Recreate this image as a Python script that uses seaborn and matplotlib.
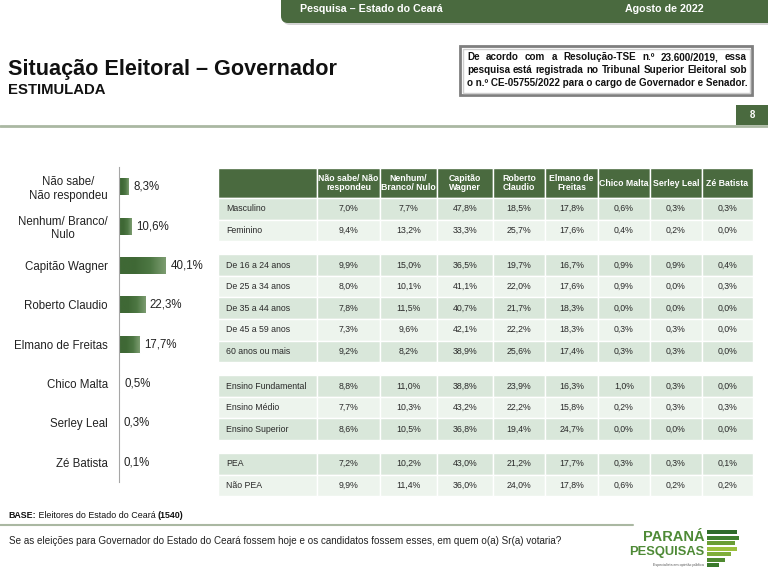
import numpy as np
import pandas as pd
import matplotlib.pyplot as plt
import seaborn as sns
from matplotlib.patches import Rectangle, FancyBboxPatch
from matplotlib.colors import LinearSegmentedColormap

# --- Total (estimulada) ---
candidatos = ["Não sabe/\nNão respondeu", "Nenhum/ Branco/\nNulo", "Capitão Wagner",
              "Roberto Claudio", "Elmano de Freitas", "Chico Malta", "Serley Leal", "Zé Batista"]
totais = [8.3, 10.6, 40.1, 22.3, 17.7, 0.5, 0.3, 0.1]

# --- Table by segment ---
colunas = ["Não sabe/ Não\nrespondeu", "Nenhum/\nBranco/ Nulo", "Capitão\nWagner", "Roberto\nClaudio",
           "Elmano de\nFreitas", "Chico Malta", "Serley Leal", "Zé Batista"]
segmentos = ["Masculino", "Feminino", "De 16 a 24 anos", "De 25 a 34 anos", "De 35 a 44 anos",
             "De 45 a 59 anos", "60 anos ou mais", "Ensino Fundamental", "Ensino Médio",
             "Ensino Superior", "PEA", "Não PEA"]
grupo = [0, 0, 1, 1, 1, 1, 1, 2, 2, 2, 3, 3]
nao_sabe = [7.0, 9.4, 9.9, 8.0, 7.8, 7.3, 9.2, 8.8, 7.7, 8.6, 7.2, 9.9]
nenhum = [7.7, 13.2, 15.0, 10.1, 11.5, 9.6, 8.2, 11.0, 10.3, 10.5, 10.2, 11.4]
capitao = [47.8, 33.3, 36.5, 41.1, 40.7, 42.1, 38.9, 38.8, 43.2, 36.8, 43.0, 36.0]
roberto = [18.5, 25.7, 19.7, 22.0, 21.7, 22.2, 25.6, 23.9, 22.2, 19.4, 21.2, 24.0]
elmano = [17.8, 17.6, 16.7, 17.6, 18.3, 18.3, 17.4, 16.3, 15.8, 24.7, 17.7, 17.8]
chico = [0.6, 0.4, 0.9, 0.9, 0.0, 0.3, 0.3, 1.0, 0.2, 0.0, 0.3, 0.6]
serley = [0.3, 0.2, 0.9, 0.0, 0.0, 0.3, 0.3, 0.3, 0.3, 0.0, 0.3, 0.2]
ze = [0.3, 0.0, 0.4, 0.3, 0.0, 0.0, 0.0, 0.0, 0.3, 0.0, 0.1, 0.2]

df_total = pd.DataFrame({"candidato": candidatos, "pct": totais})
tabela = pd.DataFrame(dict(zip(colunas, [nao_sabe, nenhum, capitao, roberto, elmano, chico, serley, ze])),
                      index=segmentos)


def pct(v):
    return f"{v:.1f}%".replace(".", ",")


sns.set_style("white")
plt.rcParams['font.family'] = ['Liberation Sans', 'DejaVu Sans']

W, H = 768, 574
verde = '#4a6a3f'
fig = plt.figure(figsize=(W / 100, H / 100), dpi=100)
bg = fig.add_axes([0, 0, 1, 1])
bg.set_xlim(0, W)
bg.set_ylim(H, 0)
bg.axis('off')
renderer = fig.canvas.get_renderer()


def largura(t):
    return t.get_window_extent(renderer).width


def ajustado(x0, x1, y, s, **kw):
    t = bg.text(x0, y, s, fontsize=10, va='center', **kw)
    t.set_fontsize(10 * (x1 - x0) / largura(t))
    return t


def justificado(x0, x1, y, s, fs, **kw):
    ts = [bg.text(0, y, w, fontsize=fs, va='center', **kw) for w in s.split()]
    ws = [largura(t) for t in ts]
    g = (x1 - x0 - sum(ws)) / (len(ws) - 1)
    x = x0
    for t, w in zip(ts, ws):
        t.set_x(x)
        x += w + g


# header band
bg.add_patch(FancyBboxPatch((283, -30), 520, 55, boxstyle="round,pad=0,rounding_size=7",
                            fc='#d4d4d4', ec='none'))
bg.add_patch(FancyBboxPatch((281, -30), 520, 53, boxstyle="round,pad=0,rounding_size=7",
                            fc=verde, ec='none'))
ajustado(300, 443, 9.5, "Pesquisa – Estado do Ceará", color='white', fontweight='bold')
ajustado(625, 703, 9.5, "Agosto de 2022", color='white', fontweight='bold')

# title
ajustado(8, 336, 70, "Situação Eleitoral – Governador", fontweight='bold', color='#111')
ajustado(8, 105, 90, "ESTIMULADA", fontweight='bold', color='#111')

# TSE box
bg.add_patch(Rectangle((460, 46), 292, 49, fc='white', ec='#7f7f7f', lw=2))
bg.add_patch(Rectangle((462.5, 48.5), 287, 44, fc='none', ec='#cfcfcf', lw=1))
l3 = ajustado(467, 747, 83, "o n.º CE-05755/2022 para o cargo de Governador e Senador.",
              fontweight='bold', color='#111')
fs_box = l3.get_fontsize()
justificado(467, 747, 57, "De acordo com a Resolução-TSE n.º 23.600/2019, essa", fs_box,
            fontweight='bold', color='#111')
justificado(467, 747, 70, "pesquisa está registrada no Tribunal Superior Eleitoral sob", fs_box,
            fontweight='bold', color='#111')

# page number + rule
bg.add_patch(Rectangle((736, 105), 32, 20, fc=verde, ec='none'))
bg.text(752, 115.5, "8", color='white', fontsize=7, fontweight='bold', ha='center', va='center')
bg.plot([0, W], [126, 126], color='#aab8a2', lw=2)

# --- bar chart (seaborn) ---
ax = fig.add_axes([119 / W, 1 - 482 / H, 110 / W, 315 / H])
sns.barplot(data=df_total, x="pct", y="candidato", orient="h", color='#456d3b',
            saturation=1, width=0.43, ax=ax)
ax.patch.set_alpha(0)
ax.set_xlim(0, 110 / 1.17)
ax.set_ylim(7.5, -0.5)

# soft sheen toward the bar tips
brilho = LinearSegmentedColormap.from_list("brilho", ['#3f6835', '#3f6835', '#4d7743', '#7c9c70'])
for p in ax.patches:
    x0, y0, w, h = p.get_x(), p.get_y(), p.get_width(), p.get_height()
    if w <= 0:
        continue
    p.set_facecolor('#8a9c84' if w < 1 else '#3f6835')
    if w >= 1:
        im = ax.imshow(np.linspace(0, 1, 64)[None, :], cmap=brilho, aspect='auto',
                       extent=[x0, x0 + w, y0 + h, y0], zorder=p.get_zorder() + 0.1,
                       interpolation='bilinear')
        im.set_clip_path(p)
ax.set_xlim(0, 110 / 1.17)
ax.set_ylim(7.5, -0.5)

ax.set_xlabel("")
ax.set_ylabel("")
ax.set_xticks([])
sns.despine(ax=ax, top=True, right=True, bottom=True)
ax.spines['left'].set_color('#a6a6a6')
ax.tick_params(axis='y', which='major', length=0, pad=8, labelsize=8.3, labelcolor='#222')
ax.set_yticks(np.arange(-0.5, 7, 1), minor=True)
ax.tick_params(axis='y', which='minor', length=4, color='#a6a6a6', width=1)
for t in ax.get_yticklabels():
    t.set_multialignment('center')
for i, v in enumerate(totais):
    ax.text(v + 3.8, i, pct(v), va='center', ha='left', fontsize=8.3, color='#222')

# --- table ---
cols_x = [218, 317, 380, 437, 493, 545, 598, 650, 702, 753]
head_top, head_bot = 168, 198
pitch, gap = 21.6, 13
for j in range(9):
    bg.add_patch(Rectangle((cols_x[j], head_top), cols_x[j + 1] - cols_x[j], head_bot - head_top,
                           fc=verde, ec='white', lw=1))
    if j > 0:
        bg.text((cols_x[j] + cols_x[j + 1]) / 2, (head_top + head_bot) / 2, colunas[j - 1],
                color='white', fontsize=6.3, fontweight='bold', ha='center', va='center',
                linespacing=1.1)

for i, seg in enumerate(segmentos):
    top = head_bot + i * pitch + grupo[i] * gap
    primeiro = grupo.index(grupo[i])
    cor = '#d9e7da' if (i - primeiro) % 2 == 0 else '#edf4ed'
    for j in range(9):
        bg.add_patch(Rectangle((cols_x[j], top), cols_x[j + 1] - cols_x[j], pitch,
                               fc=cor, ec='white', lw=1))
    yc = top + pitch / 2
    bg.text(cols_x[0] + 8, yc, seg, fontsize=6.3, va='center', ha='left', color='#2a2a2a')
    for j, col in enumerate(colunas):
        bg.text((cols_x[j + 1] + cols_x[j + 2]) / 2, yc, pct(tabela.loc[seg, col]),
                fontsize=6.3, va='center', ha='center', color='#2a2a2a')

# --- footer ---
x = 8
for parte, peso in [("BASE:", 'bold'), (" Eleitores do Estado do Ceará ", 'normal'), ("(1540)", 'bold')]:
    t = bg.text(x, 516, parte, fontsize=6.4, fontweight=peso, va='center', color='#111')
    x += largura(t)
bg.plot([0, 633], [525, 525], color='#aab8a2', lw=1.5)
ajustado(9, 566, 541, "Se as eleições para Governador do Estado do Ceará fossem hoje e os candidatos "
                      "fossem esses, em quem o(a) Sr(a) votaria?", color='#222')

# logo
verde_logo = '#4e8a36'
ajustado(643, 704, 537, "PARANÁ", fontweight='bold', color=verde_logo)
ajustado(629, 704, 552, "PESQUISAS", fontweight='bold', color=verde_logo)
bg.text(704, 565, "Especialista em opinião pública", ha='right', va='center', fontsize=2.6,
        color='#555')
faixas = [(530, 30, '#2f6b2a'), (535.5, 32, '#3f7f2e'), (541, 28, '#6a9d35'), (546.5, 30, '#9cc03e'),
          (552, 24, '#7fae3a'), (557.5, 18, '#4f8a30'), (563, 12, '#3a7a2c')]
for yy, comp, c in faixas:
    bg.add_patch(Rectangle((707, yy), comp, 4.3, fc=c, ec='none'))

fig.savefig("out.png", dpi=100)
